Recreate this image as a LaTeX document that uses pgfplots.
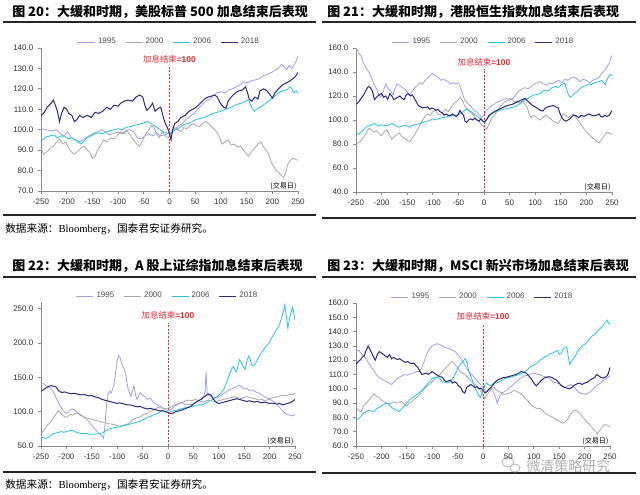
\documentclass[border=0pt]{standalone}
\usepackage{fontspec}
\usepackage{pgfplots}
\pgfplotsset{compat=1.18}
\setmainfont{Liberation Sans}
\newfontfamily\cjk{Noto Sans CJK SC}
\newfontfamily\serif{Liberation Serif}

\definecolor{c95}{HTML}{A0A0EC}
\definecolor{c00}{HTML}{A8A8A8}
\definecolor{c06}{HTML}{22C4E8}
\definecolor{c18}{HTML}{2B2B80}
\definecolor{axgray}{HTML}{8A8A8A}
\definecolor{hike}{HTML}{E8262E}

\pgfplotsset{
  panel/.style={
    scale only axis,
    xmin=-250, xmax=250,
    xtick={-250,-200,...,250},
    axis x line*=bottom, axis y line*=left,
    axis line style={draw=axgray, line width=0.6pt},
    every tick/.style={draw=axgray, line width=0.6pt},
    tick align=outside, major tick length=2.25pt,
    tick label style={font=\fontsize{6}{7}\selectfont, text=black!80},
    /pgf/number format/assume math mode=true,
    yticklabel style={/pgf/number format/.cd, fixed, fixed zerofill, precision=1},
    legend columns=4,
    legend style={draw=none, fill=none, at={(0.5,1)}, anchor=center,
      yshift=4.5pt, inner sep=0pt,
      font=\fontsize{6}{7}\selectfont, text=black!70,
      /tikz/every even column/.append style={column sep=5pt}},
    legend image code/.code={\draw[##1] (0pt,0pt) -- (12.75pt,0pt);},
  },
  s95/.style={color=c95, line width=0.6pt},
  s00/.style={color=c00, line width=0.6pt},
  s06/.style={color=c06, line width=0.6pt},
  s18/.style={color=c18, line width=0.75pt},
}

\newcommand{\hikelabel}{{\cjk 加息结束}\textbf{=100}}
\newcommand{\tday}{\fontsize{5.3}{6}\selectfont\cjk (交易日)}

\begin{document}
\begin{tikzpicture}[x=0.75pt, y=-0.75pt]
\fill[white] (0,0) rectangle (640,494);
\useasboundingbox (0,0) rectangle (640,494);
\coordinate (p1) at (41,191);
\coordinate (p2) at (356,192);
\coordinate (p3) at (41,446);
\coordinate (p4) at (356,446);

% titles, rules, sources
\node[anchor=west, inner sep=0pt] at (12,11.5) {\cjk\bfseries\fontsize{9.75}{11}\selectfont 图 20：大缓和时期，美股标普 500 加息结束后表现};
\node[anchor=west, inner sep=0pt] at (327,11.5) {\cjk\bfseries\fontsize{9.75}{11}\selectfont 图 21：大缓和时期，港股恒生指数加息结束后表现};
\node[anchor=west, inner sep=0pt] at (12,266) {\cjk\bfseries\fontsize{9.75}{11}\selectfont 图 22：大缓和时期，A 股上证综指加息结束后表现};
\node[anchor=west, inner sep=0pt] at (327,266) {\cjk\bfseries\fontsize{9.75}{11}\selectfont 图 23：大缓和时期，MSCI 新兴市场加息结束后表现};
\draw[black!85, line width=1pt] (3,22) -- (316,22) (322,22) -- (636,22);
\draw[black!85, line width=1pt] (3,215) -- (316,215) (322,218) -- (636,218);
\draw[black!85, line width=1pt] (3,277) -- (316,277) (322,277) -- (636,277);
\draw[black!85, line width=1pt] (3,472) -- (316,472) (322,473) -- (636,473);
\node[anchor=west, inner sep=0pt] at (5,229) {\fontsize{8}{9}\selectfont{\cjk 数据来源：}{\serif Bloomberg}{\cjk ，国泰君安证券研究。}};
\node[anchor=west, inner sep=0pt] at (5,485) {\fontsize{8}{9}\selectfont{\cjk 数据来源：}{\serif Bloomberg}{\cjk ，国泰君安证券研究。}};

% watermark
\draw[gray!55, line width=0.6pt] (508,462) ellipse (6 and 5);
\draw[gray!55, line width=0.6pt, fill=white] (515,468) ellipse (5 and 4);
\node[anchor=west, inner sep=0pt, text=gray!60] at (526,466) {\cjk\fontsize{10.5}{12}\selectfont 微清策略研究};

% ---------- 图20 S&P 500
\begin{axis}[panel, at={(p1)}, anchor=south west,
  width=192.75pt, height=107.25pt,
  ymin=70, ymax=140, ytick={70,80,...,140}]
\addplot[s95] coordinates {(-250,100.5) (-240,100) (-230,99.5) (-220,100) (-212,98) (-205,97) (-198,99) (-190,96) (-182,95) (-175,94) (-168,95) (-160,96.5) (-150,98) (-140,99) (-132,100) (-125,99) (-118,97.5) (-110,98) (-100,99) (-92,98) (-85,99.5) (-78,100) (-70,99) (-62,96) (-55,95.5) (-48,97) (-40,98) (-32,97) (-25,98.5) (-18,97) (-10,97.5) (-4,98) (0,99) (5,98) (10,100) (18,102) (25,103) (32,105) (40,106.5) (48,108) (55,110) (62,112) (70,114) (78,115) (85,116.5) (92,118) (100,118.5) (108,118) (115,119.5) (122,120) (130,121) (138,122) (145,123.5) (152,123) (160,124) (168,124.5) (175,125) (182,126.5) (190,127) (198,128) (205,129) (212,130) (218,132) (222,131) (228,129.5) (233,131.5) (238,130) (243,132) (247,134) (250,136)};
\addlegendentry{1995}
\addplot[s00] coordinates {(-250,91) (-245,88) (-240,89) (-235,90) (-230,91.5) (-225,92) (-220,94) (-214,95.5) (-208,93) (-202,94) (-196,91) (-190,89) (-184,88) (-178,89.5) (-172,91) (-166,92) (-160,90) (-155,89) (-150,86) (-145,87) (-140,90) (-135,92) (-128,95) (-122,94) (-115,96) (-108,95.5) (-100,97.5) (-94,99) (-88,98) (-82,99.5) (-76,97) (-70,95) (-64,93) (-58,92) (-52,95) (-46,98) (-40,100) (-35,102) (-30,101) (-25,98) (-20,96) (-14,99) (-8,97) (-3,96) (0,97) (5,99) (10,101) (16,100) (22,99) (28,101) (34,100.5) (40,102) (46,103) (52,102) (58,101.5) (64,103) (70,104) (76,103) (82,101.5) (88,100) (94,98) (98,96) (102,93) (108,94) (114,95) (120,92.5) (126,93) (132,91.5) (138,92) (144,90) (150,88) (154,87) (160,89.5) (166,91) (172,93) (178,94) (183,91.5) (188,90) (193,88) (198,84) (203,82) (208,80) (213,79) (218,77.5) (222,76.5) (226,79) (230,83) (235,85) (240,86) (245,85.5) (250,85)};
\addlegendentry{2000}
\addplot[s06] coordinates {(-250,94) (-245,95.5) (-240,96.5) (-232,97) (-225,97.5) (-218,96) (-210,97) (-203,96.5) (-196,95.5) (-190,96) (-184,95) (-178,94) (-172,93) (-166,94.5) (-160,96) (-152,97) (-145,98) (-138,98.5) (-130,98) (-122,99) (-115,99.5) (-108,100) (-100,100.5) (-92,100) (-85,101) (-78,101.5) (-70,102) (-62,102.5) (-55,103) (-48,103.5) (-42,104) (-36,103) (-30,102) (-24,101) (-18,100) (-12,99) (-6,98.5) (0,98) (6,99) (12,100) (20,101) (28,102.5) (36,103) (44,104) (52,105) (60,105.5) (68,106) (76,107) (84,108) (92,108.5) (100,109) (108,110) (116,110.5) (124,111.5) (132,112.5) (140,113) (148,114) (154,114.5) (158,112) (162,110) (166,109) (170,110) (176,111) (182,112) (190,113.5) (198,115) (205,116.5) (212,118) (220,119) (228,119.5) (234,121) (238,120) (242,118) (246,119) (250,118)};
\addlegendentry{2006}
\addplot[s18] coordinates {(-250,107) (-245,108) (-238,111) (-230,113) (-226,114.5) (-222,112) (-218,109) (-214,104) (-210,108) (-205,111) (-200,110) (-196,108) (-190,107) (-185,104) (-180,105) (-175,107) (-168,106) (-160,107) (-152,106) (-145,108.5) (-138,108) (-130,109) (-122,111) (-115,110) (-108,112) (-100,111.5) (-95,113) (-88,114) (-80,114.5) (-72,114) (-65,116) (-58,117) (-52,116) (-48,112) (-44,109.5) (-38,111) (-33,113) (-28,109) (-22,110.5) (-17,111) (-12,106) (-8,103) (-4,101) (-1,99) (3,95) (6,100) (10,103) (16,104) (22,106) (30,107) (38,109) (45,110) (52,111) (60,113) (68,115) (75,116) (82,116.5) (88,117) (93,116) (99,113) (105,111) (110,110.5) (114,114) (120,116) (128,118) (135,119) (142,119.5) (148,121) (152,118) (155,115) (160,114) (166,116) (172,115) (176,119) (183,120) (190,119) (196,117) (200,115.5) (205,118) (212,120) (220,122) (228,123) (235,124) (240,125) (245,126) (250,128)};
\addlegendentry{2018}
\draw[hike, dash pattern=on 1.5pt off 1.2pt, line width=0.6pt] (axis cs:0,70) -- (axis cs:0,131);
\node[text=hike, font=\fontsize{6.3}{7}\selectfont] at (axis cs:0,134.5) {\hikelabel};
\node[anchor=south east, inner sep=1pt] at (axis cs:250,70) {\tday};
\end{axis}

% ---------- 图21 Hang Seng
\begin{axis}[panel, at={(p2)}, anchor=south west,
  width=192pt, height=108pt,
  ymin=40, ymax=160, ytick={40,60,...,160}]
\addplot[s95] coordinates {(-250,160) (-245,156) (-240,153) (-235,147) (-230,143) (-225,140) (-220,136) (-215,130) (-210,126) (-206,122) (-202,119) (-197,124) (-192,130) (-187,126) (-182,124) (-178,121) (-174,126) (-170,130) (-165,129) (-160,127) (-155,126) (-150,123) (-145,121) (-140,124) (-135,127) (-130,129) (-125,131) (-120,130) (-115,133) (-110,135) (-105,137) (-100,139) (-96,137) (-92,136) (-88,135) (-84,133) (-80,134) (-75,133) (-70,132) (-65,130) (-60,131) (-55,130) (-50,131) (-46,127) (-42,122) (-38,117) (-34,115) (-30,113) (-25,111) (-20,108) (-15,107) (-10,105) (-5,102) (0,104) (5,108) (10,110) (15,112) (20,113) (26,115) (32,116) (38,117) (44,118) (50,116.5) (56,118) (62,121) (68,124) (74,126) (80,127) (86,126) (92,128) (98,130) (104,131) (110,132) (116,130) (122,129) (128,131) (134,130) (140,132) (146,133) (152,131) (158,134) (164,133) (170,135) (176,136) (182,134) (188,132) (194,134) (200,133) (206,131) (212,133) (218,134) (224,135) (230,139) (235,141) (240,144) (245,148) (250,154)};
\addlegendentry{1995}
\addplot[s00] coordinates {(-250,80) (-245,81) (-240,83) (-235,86) (-230,89) (-225,93) (-220,92) (-215,90) (-210,91) (-205,89) (-200,87) (-195,90) (-190,92) (-185,88) (-180,84) (-175,86) (-170,88) (-165,89) (-160,86) (-155,85) (-150,83) (-145,82) (-140,85) (-135,88) (-130,92) (-125,96) (-120,100) (-115,103) (-110,105) (-105,104) (-100,107) (-95,108) (-90,105) (-85,104) (-80,107) (-75,109) (-70,107) (-65,110) (-60,113) (-55,115) (-50,117) (-46,119) (-42,116) (-38,112) (-34,110) (-30,108) (-25,106) (-20,104) (-15,101) (-10,99) (-5,96) (0,95) (5,92) (10,97) (15,101) (20,104) (25,107) (30,110) (35,113) (40,115) (45,116) (50,118) (55,117) (60,115) (65,116) (70,114) (75,116) (80,113) (85,110) (88,105) (92,102) (96,104) (100,103) (105,101) (110,100) (115,102) (120,104) (125,103) (130,101) (135,99) (140,98) (145,97) (150,101) (155,105) (160,104) (165,102) (170,104) (175,105) (180,102) (185,99) (190,96) (195,93) (200,90) (205,88) (210,86) (215,84) (220,82) (225,81) (230,84) (235,87) (240,90) (245,89) (250,88)};
\addlegendentry{2000}
\addplot[s06] coordinates {(-250,90) (-245,88) (-240,90) (-235,92) (-230,94) (-225,95) (-220,96) (-215,97) (-210,96) (-205,95) (-200,96) (-195,95.5) (-190,95) (-185,96) (-180,97) (-175,96) (-170,94.5) (-165,94) (-160,95) (-155,95.5) (-150,95) (-145,94) (-140,95.5) (-135,96) (-130,96.5) (-125,97) (-120,98) (-115,98.5) (-110,99) (-105,100) (-100,101) (-95,100) (-90,101) (-85,101.5) (-80,102) (-75,102.5) (-70,103) (-65,103.5) (-60,104) (-55,103) (-50,104.5) (-45,106) (-40,107) (-35,109) (-30,108) (-25,107) (-20,105) (-15,104) (-10,102) (-5,100) (0,98) (5,100) (10,103) (15,105) (20,106.5) (25,107) (30,108) (35,108.5) (40,109) (45,109.5) (50,110) (55,110.5) (60,111) (65,112) (70,113.5) (75,115) (80,117) (85,118) (90,119) (95,120.5) (100,121) (105,121.5) (110,122) (115,124) (120,125) (125,124) (130,126) (135,127.5) (140,128) (145,127) (150,129) (155,130) (158,131) (161,126) (164,122) (168,119) (172,120) (176,122) (180,123) (185,125) (190,127) (195,128) (200,129) (205,130) (210,129.5) (215,131) (220,131.5) (225,132) (230,133) (234,131) (237,129.5) (240,133) (243,136) (246,138) (250,137)};
\addlegendentry{2006}
\addplot[s18] coordinates {(-250,113) (-245,115) (-240,118) (-235,121) (-230,125) (-226,128) (-222,127) (-218,124) (-214,117) (-210,119) (-205,121) (-200,122) (-196,119) (-192,120) (-188,117) (-184,122) (-180,120) (-176,117) (-172,118) (-168,119) (-164,120) (-160,118) (-156,117) (-152,121) (-148,122) (-144,120) (-140,121) (-136,118) (-132,115) (-128,112) (-124,111) (-120,110) (-115,110.5) (-110,111) (-106,109) (-102,110) (-98,109.5) (-94,108) (-90,109) (-86,107) (-82,106) (-78,104) (-74,105) (-70,104) (-66,103.5) (-62,105) (-58,104) (-54,103) (-50,105) (-47,108) (-44,106) (-40,104) (-37,99) (-34,98) (-30,100) (-26,101) (-22,100) (-18,101.5) (-14,100) (-10,99) (-6,101) (-2,99) (2,98.5) (6,101) (10,104) (15,105.5) (20,107) (25,108) (30,109) (35,110) (40,111) (45,112) (50,112.5) (55,113) (60,114) (65,115) (70,116) (75,117) (80,118) (85,116) (90,114) (95,112) (100,111) (105,109.5) (110,108) (115,107.5) (120,110) (125,111) (130,111.5) (135,112) (140,111) (145,110) (148,106) (152,102) (156,100) (160,99) (164,100) (168,101) (172,103) (176,104) (180,103.5) (185,102) (190,104) (195,103) (200,104) (205,105) (210,104) (215,103.5) (220,104) (225,105) (228,103) (232,102.5) (236,104) (240,103) (245,104) (250,108)};
\addlegendentry{2018}
\draw[hike, dash pattern=on 1.5pt off 1.2pt, line width=0.6pt] (axis cs:0,40) -- (axis cs:0,142.5);
\node[text=hike, font=\fontsize{6.3}{7}\selectfont] at (axis cs:0,148.5) {\hikelabel};
\node[anchor=south east, inner sep=1pt] at (axis cs:250,40) {\tday};
\end{axis}

% ---------- 图22 Shanghai Composite
\begin{axis}[panel, at={(p3)}, anchor=south west,
  width=190.5pt, height=108pt,
  ymin=50, ymax=260, ytick={50,100,...,250}]
\addplot[s95] coordinates {(-250,140) (-245,141) (-240,138) (-235,136) (-230,134) (-225,128) (-220,120) (-215,112) (-210,106) (-205,100) (-200,98) (-195,100) (-190,104) (-185,103) (-180,100) (-175,97) (-170,95) (-165,92) (-160,89) (-155,85) (-150,80) (-145,76) (-140,72) (-135,68) (-130,65) (-127,61) (-124,80) (-121,110) (-118,125) (-115,130) (-112,127) (-109,133) (-106,140) (-103,158) (-100,175) (-97,182) (-94,178) (-91,170) (-88,165) (-85,160) (-82,150) (-79,135) (-76,128) (-73,122) (-70,130) (-67,138) (-64,125) (-61,118) (-58,122) (-55,128) (-50,124) (-45,122) (-40,118) (-35,120) (-30,115) (-25,112) (-20,110) (-15,108) (-10,105) (-5,104) (0,101) (5,103) (10,106) (15,109) (20,111) (25,113) (30,112) (35,110) (40,111) (45,110) (50,112) (55,113) (60,116) (65,118) (70,121) (73,130) (75,158) (77,128) (80,124) (85,122) (90,121) (95,120) (100,122) (105,124) (110,127) (115,129) (120,132) (125,133) (130,135) (135,137) (140,139) (145,136) (150,133) (155,134) (160,131) (165,132) (170,130) (175,128) (180,127) (185,124) (190,122) (195,120) (200,118) (205,116) (210,114) (215,110) (220,106) (225,102) (230,98) (235,96) (240,95) (245,94) (250,96)};
\addlegendentry{1995}
\addplot[s00] coordinates {(-250,68) (-245,72) (-240,78) (-235,82) (-230,86) (-225,92) (-220,97) (-216,102) (-212,98) (-208,95) (-204,93) (-200,92) (-196,94) (-192,96) (-188,95) (-184,97) (-180,98) (-175,96) (-170,94) (-165,92) (-160,91) (-155,90) (-150,89) (-145,88) (-140,87) (-135,86) (-130,85) (-125,84) (-120,83) (-115,82) (-110,82) (-105,81) (-100,80) (-95,79) (-90,80) (-85,81) (-80,82) (-75,84) (-70,88) (-65,90) (-60,91) (-55,92) (-50,95) (-45,97) (-40,98) (-35,100) (-30,102) (-25,104) (-20,106) (-15,107) (-10,105) (-5,104) (0,105) (5,107) (10,109) (15,110) (20,112) (25,113) (30,114) (35,116) (40,117) (45,116) (50,117) (55,118) (60,116) (65,115) (70,114) (75,116) (80,117) (85,116) (90,115) (95,114) (100,116) (105,117) (110,118) (115,119) (120,120) (125,121) (130,122) (135,121) (140,120) (145,119) (150,121) (155,122) (160,121) (165,120) (170,119) (175,118) (180,117) (185,118) (190,116) (195,117) (200,119) (205,120) (210,121) (215,122) (220,123) (225,124) (230,123) (235,124) (240,125) (245,125) (250,127)};
\addlegendentry{2000}
\addplot[s06] coordinates {(-250,63) (-245,62) (-240,61) (-235,63) (-230,66) (-225,68) (-220,69) (-215,70) (-210,71) (-205,70) (-200,71) (-195,72) (-190,73) (-185,72) (-180,70) (-175,69) (-170,68) (-165,68.5) (-160,68) (-155,67) (-150,67.5) (-145,67) (-140,68) (-135,68) (-130,69) (-125,71) (-120,73) (-115,75) (-110,76) (-105,77) (-100,77.5) (-95,78) (-90,79) (-85,80) (-80,81) (-75,82) (-70,83) (-65,84) (-60,85) (-55,86) (-50,88) (-45,90) (-40,92) (-35,93) (-30,95) (-25,96) (-20,98) (-15,100) (-10,102) (-5,100) (0,99) (5,100) (10,101) (15,102) (20,103) (25,104) (30,105) (35,106) (40,107) (45,107.5) (50,108) (55,109) (60,110) (65,110) (70,111) (75,113) (80,115) (85,117) (90,119) (95,121) (100,124) (105,128) (110,133) (114,140) (118,148) (122,156) (126,163) (129,166) (132,160) (135,158) (138,168) (141,176) (144,172) (148,166) (152,162) (156,176) (159,181) (162,176) (165,168) (168,167) (172,170) (176,176) (180,181) (184,186) (188,190) (192,195) (196,198) (200,201) (204,208) (208,212) (212,218) (216,222) (220,228) (224,238) (227,246) (230,256) (233,240) (236,222) (239,235) (242,244) (245,252) (247,248) (249,238) (250,234)};
\addlegendentry{2006}
\addplot[s18] coordinates {(-250,130) (-245,132) (-240,135) (-235,137) (-230,138) (-225,137) (-220,136) (-216,131) (-212,129) (-208,128) (-204,129) (-200,128) (-195,127) (-190,126) (-185,127) (-180,126) (-175,125) (-170,124.5) (-165,125) (-160,124) (-155,123) (-150,123.5) (-145,122) (-140,121) (-135,120) (-130,118) (-125,117) (-120,116) (-115,115) (-110,114) (-105,113) (-100,112) (-95,113) (-90,112) (-85,111) (-80,110) (-75,110) (-70,109) (-65,108) (-60,107) (-55,108) (-50,106) (-45,105) (-40,104) (-35,105) (-30,104) (-25,103) (-20,102) (-15,101) (-10,101.5) (-5,100) (0,99) (5,97) (10,98) (15,100) (20,101) (25,102) (30,103) (35,105) (40,106) (45,108) (50,111) (55,114) (60,116) (65,118) (70,121) (75,124) (80,126) (85,124) (88,120) (92,116) (96,113) (100,112) (105,113) (110,114) (115,115) (120,116) (125,117) (130,118) (135,119) (140,118) (145,117) (150,116) (155,115) (160,116) (165,115) (170,114) (175,115) (180,114) (185,113) (190,114) (195,113) (200,112) (205,112.5) (210,112) (215,111) (220,112) (225,110) (230,111) (235,112) (240,113) (245,115) (250,118)};
\addlegendentry{2018}
\draw[hike, dash pattern=on 1.5pt off 1.2pt, line width=0.6pt] (axis cs:0,50) -- (axis cs:0,230);
\node[text=hike, font=\fontsize{6.3}{7}\selectfont] at (axis cs:0,241) {\hikelabel};
\node[anchor=south east, inner sep=1pt] at (axis cs:250,50) {\tday};
\end{axis}

% ---------- 图23 MSCI EM
\begin{axis}[panel, at={(p4)}, anchor=south west,
  width=190.5pt, height=107.25pt,
  ymin=60, ymax=160, ytick={60,70,...,160}]
\addplot[s95] coordinates {(-250,126) (-245,127) (-240,125) (-235,123) (-230,121) (-225,118) (-220,115) (-215,113) (-210,110) (-205,108) (-200,107) (-195,106) (-190,105) (-185,104) (-180,103) (-175,105) (-170,107) (-165,108) (-160,109) (-155,110) (-150,109.5) (-145,110) (-140,111) (-135,111) (-130,112) (-125,112) (-120,115) (-115,120) (-110,125) (-105,128) (-100,130) (-95,131) (-90,131.5) (-85,131) (-80,130) (-75,129) (-70,128.5) (-65,128) (-60,127) (-55,126) (-50,124) (-45,122) (-40,119) (-35,116) (-30,113) (-25,111) (-20,109) (-15,107) (-10,105) (-5,103) (0,101) (5,98) (10,99) (15,100) (20,98) (25,94) (28,90) (32,94) (37,97) (42,98) (47,99) (52,101) (57,102) (62,104) (67,105) (72,107) (77,108) (82,109) (87,109.5) (92,110) (97,110.5) (102,111) (107,110) (112,110) (117,109) (122,108.5) (127,108) (132,107) (137,105) (142,104.5) (147,104) (152,103) (157,102) (162,101) (167,102) (172,103) (177,102) (182,100) (187,98) (192,97) (197,96.5) (202,96) (207,97) (212,98) (217,100) (222,102) (227,103) (232,104) (237,106) (242,107) (246,108) (250,109)};
\addlegendentry{1995}
\addplot[s00] coordinates {(-250,87) (-245,85) (-240,84) (-235,88) (-230,90) (-225,92) (-220,94) (-215,96.5) (-210,95) (-205,94) (-200,92) (-195,91) (-190,90) (-185,89.5) (-180,90) (-175,91) (-170,90) (-165,90.5) (-160,91) (-155,89) (-150,88) (-145,90) (-140,91) (-135,93) (-130,94) (-125,96) (-120,98) (-115,100) (-110,102) (-105,103) (-100,105) (-95,107) (-90,108) (-85,110) (-80,112) (-75,114) (-70,116) (-65,118) (-60,119) (-55,117) (-50,115) (-45,112) (-40,111) (-35,110) (-30,108) (-25,106) (-20,104) (-15,103) (-10,101) (-5,99) (0,96) (3,93) (7,95) (12,98) (17,100) (22,101) (27,99) (32,98) (37,97) (42,96) (47,96.5) (52,97) (57,98) (62,99) (67,98) (72,97) (77,96) (82,94) (87,92) (92,90) (97,88) (102,87) (107,86) (112,86.5) (117,85) (122,83) (127,82) (132,81) (137,80) (142,79) (147,78) (152,77) (157,76) (162,77) (167,79) (172,82) (177,84.5) (182,85) (187,84) (192,82) (197,80) (202,78) (207,76) (212,74) (217,72) (222,70) (225,68.5) (228,70) (232,72) (236,74) (240,75) (245,74.5) (250,73.5)};
\addlegendentry{2000}
\addplot[s06] coordinates {(-250,78) (-245,79) (-240,81) (-235,83) (-230,84) (-225,85) (-220,84.5) (-215,84) (-210,86) (-205,87) (-200,88) (-195,89) (-190,90) (-185,89) (-180,87) (-175,86) (-170,85) (-165,84) (-160,86) (-155,88) (-150,90) (-145,92) (-140,93.5) (-135,95) (-130,96) (-125,97.5) (-120,99) (-115,101) (-110,103) (-105,105) (-100,107) (-95,108) (-90,108) (-85,107) (-80,105) (-75,104.5) (-70,104) (-65,105) (-60,107) (-55,110) (-50,114) (-45,117) (-40,119) (-35,121) (-31,118) (-28,112) (-25,110) (-22,107) (-19,104) (-16,101) (-12,98) (-8,95) (-5,94) (-2,97) (1,100) (4,103) (7,104) (10,103) (14,102) (18,103) (22,104) (27,104) (32,105) (37,106) (42,107) (47,107.5) (52,108) (57,108.5) (62,109) (67,109.5) (72,110) (77,111) (82,112) (87,113) (92,115) (97,116) (102,117) (107,118) (112,120) (117,121) (122,122.5) (127,123) (132,124.5) (137,125) (142,126) (147,127) (150,124) (154,125) (158,128) (162,129) (165,129.5) (168,122) (171,117) (174,119) (178,121) (182,123) (186,126) (190,128) (195,130) (200,131) (205,133) (210,135) (215,137) (220,138) (225,140) (230,142) (235,143.5) (240,146) (244,148) (247,146) (250,145)};
\addlegendentry{2006}
\addplot[s18] coordinates {(-250,117) (-246,119) (-242,120) (-238,122) (-234,123) (-230,127) (-226,130) (-222,127) (-219,125) (-215,122) (-212,120) (-208,124) (-204,126) (-200,125) (-196,124) (-192,123) (-188,122) (-184,124) (-180,121) (-176,122) (-172,121) (-168,120.5) (-164,121) (-160,120) (-156,119) (-152,118.5) (-148,119) (-144,118) (-140,117.5) (-136,118) (-132,116) (-128,115) (-124,112) (-120,110) (-116,110.5) (-112,111) (-108,110) (-104,111) (-100,112) (-96,111) (-92,110) (-88,109) (-84,108.5) (-80,108) (-76,106) (-72,105) (-68,105.5) (-64,106) (-60,104) (-56,105) (-52,104) (-48,102) (-44,101) (-40,98) (-36,97) (-32,101) (-28,102) (-24,103) (-20,102) (-16,101) (-12,101.5) (-8,100) (-4,100.5) (0,99) (4,97) (8,98) (12,100) (16,101) (20,103) (25,105) (30,106.5) (35,107) (40,108) (45,108) (50,108.5) (55,109) (60,109.5) (65,110) (70,111) (75,112) (80,111.5) (85,111) (90,109) (95,107) (100,104) (105,102) (110,104) (115,106) (120,107.5) (125,108) (130,108.5) (135,108) (140,107) (145,106) (150,104) (155,102) (160,101) (165,100.5) (170,100) (175,101) (180,102.5) (185,103.5) (190,104) (195,103) (200,104) (205,104.5) (210,106) (215,107) (220,108) (224,110) (228,109) (232,108) (236,107.5) (240,108) (244,109) (247,111) (250,115)};
\addlegendentry{2018}
\draw[hike, dash pattern=on 1.5pt off 1.2pt, line width=0.6pt] (axis cs:0,60) -- (axis cs:0,145.5);
\node[text=hike, font=\fontsize{6.3}{7}\selectfont] at (axis cs:0,150.5) {\hikelabel};
\node[anchor=south east, inner sep=1pt] at (axis cs:250,60) {\tday};
\end{axis}
\end{tikzpicture}
\end{document}
